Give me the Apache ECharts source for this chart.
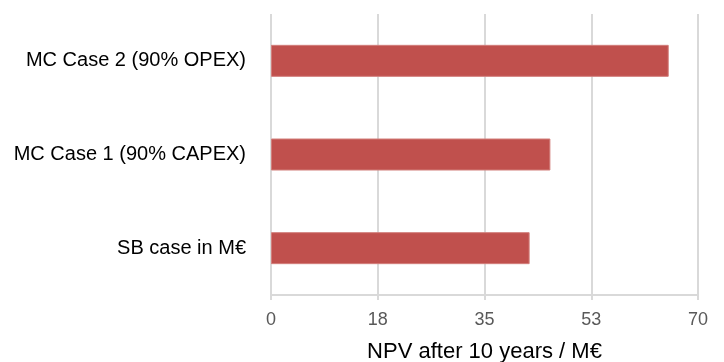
<!DOCTYPE html>
<html>
<head>
<meta charset="utf-8">
<script src="https://cdn.jsdelivr.net/npm/echarts@6/dist/echarts.min.js"></script>
<style>
  html, body { margin: 0; padding: 0; background: #fff; }
  #chart { width: 724px; height: 362px; }
</style>
</head>
<body>
<div id="chart"></div>
<script>
// Scenario names, bottom to top on the category axis
const categories = ['SB case in M€', 'MC Case 1 (90% CAPEX)', 'MC Case 2 (90% OPEX)'];
// Net present value after ten years, in M€
const npvValues = [42.4, 45.8, 65.2];
// Value axis range and step (labels shown rounded)
const axisMin = 0;
const axisMax = 70;
const axisStep = 17.5;

const chart = echarts.init(document.getElementById('chart'));
chart.setOption({
  animation: false,
  grid: {
    left: 271, right: 26, top: 14, bottom: 67,
    containLabel: false,
    outerBoundsMode: 'none'
  },
  xAxis: {
    type: 'value',
    min: axisMin,
    max: axisMax,
    interval: axisStep,
    name: 'NPV after 10 years / M€',
    nameLocation: 'middle',
    nameGap: 46,
    nameTextStyle: { color: '#000', fontSize: 22, fontFamily: 'Liberation Sans' },
    axisLine: { show: true, lineStyle: { color: '#d9d9d9', width: 2 } },
    axisTick: { show: true, length: 5, lineStyle: { color: '#d9d9d9', width: 2 } },
    axisLabel: {
      color: '#595959', fontSize: 18, fontFamily: 'Liberation Sans', margin: 16,
      formatter: v => String(Math.round(v))
    },
    splitLine: { show: true, lineStyle: { color: '#d9d9d9', width: 2 } }
  },
  yAxis: {
    type: 'category',
    data: categories,
    axisLine: { show: false },
    axisTick: { show: false },
    axisLabel: { color: '#000', fontSize: 20, fontFamily: 'Liberation Sans', margin: 25 }
  },
  series: [{
    type: 'bar',
    data: npvValues,
    barWidth: 32,
    itemStyle: { color: '#c0504d', borderColor: '#d27e7b', borderWidth: 1 }
  }]
});
</script>
</body>
</html>
